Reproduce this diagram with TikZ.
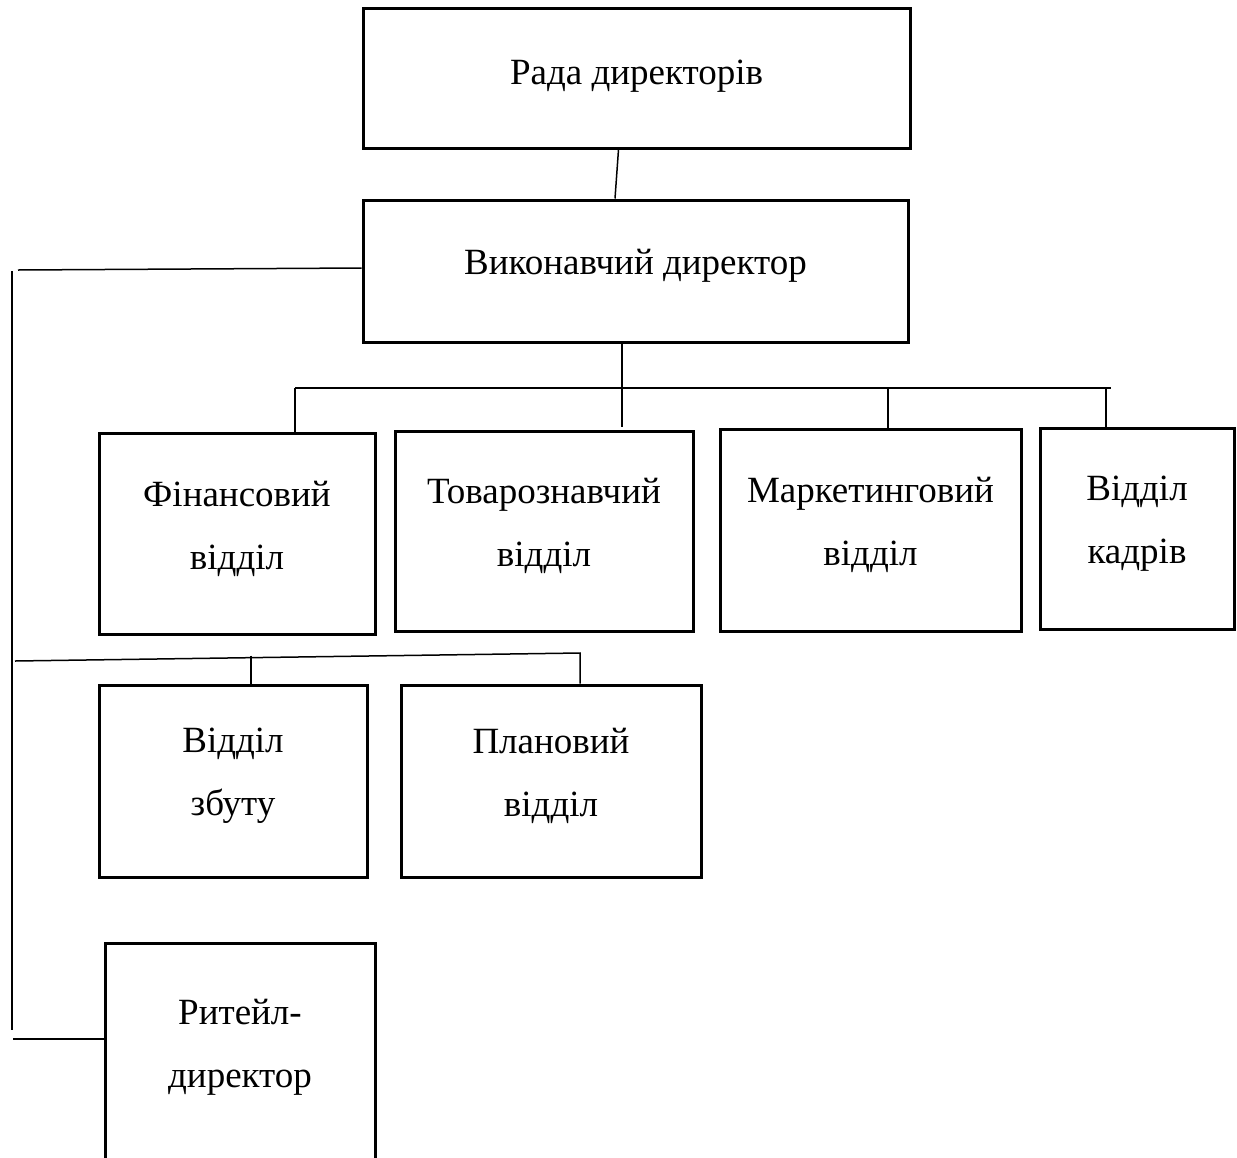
\documentclass[tikz,border=0pt]{standalone}
\usepackage{fontspec}
\setmainfont{Liberation Serif}
\begin{document}
\begin{tikzpicture}[x=1pt,y=-1pt,
  box/.style={draw=black, line width=3pt, inner sep=0pt},
  txt/.style={align=center, inner sep=0pt, yshift=5pt, font=\fontsize{37}{63}\selectfont},
  wire/.style={draw=black, line width=1.5pt}]
\useasboundingbox (0,0) rectangle (1237,1157);
\clip (0,0) rectangle (1237,1157);
\node[box, minimum width=547, minimum height=140, label={[txt,yshift=-3pt]center:Рада директорів}] (rada) at (636.5,78) {};
\node[box, minimum width=545, minimum height=142, label={[txt]center:Виконавчий директор}] (vykon) at (635.5,271) {};
\node[box, minimum width=276, minimum height=201, label={[txt]center:{Фінансовий\\відділ}}] (fin) at (237,533.5) {};
\node[box, minimum width=298, minimum height=200, label={[txt]center:{Товарознавчий\\відділ}}] (tovar) at (544,531) {};
\node[box, minimum width=301, minimum height=202, label={[txt]center:{Маркетинговий\\відділ}}] (market) at (870.5,530) {};
\node[box, minimum width=194, minimum height=201, label={[txt]center:{Відділ\\кадрів}}] (kadry) at (1137,528.5) {};
\node[box, minimum width=268, minimum height=192, label={[txt]center:{Відділ\\збуту}}] (zbut) at (233,781) {};
\node[box, minimum width=300, minimum height=192, label={[txt]center:{Плановий\\відділ}}] (plan) at (551,781) {};
\node[box, minimum width=270, minimum height=219, label={[txt]center:{Ритейл-\\директор}}] (ritail) at (240,1052.5) {};
\coordinate (lhook) at (18,270);
\coordinate (ltop) at (12,271);
\coordinate (lbot) at (12,1030);
\coordinate (lfoot) at (13,1039);
\coordinate (busL) at (295,388);
\coordinate (busR) at (1111,388);
\coordinate (midL) at (15,661);
\coordinate (midR) at (580,653);
\draw[wire] ([xshift=-18]rada.south) -- ([xshift=-20.5]vykon.north);
\draw[wire] (lhook) -- ([yshift=3]vykon.west);
\draw[wire] (ltop) -- (lbot);
\draw[wire] (lfoot) -- (ritail.west |- lfoot);
\draw[wire] ([xshift=-13.5]vykon.south) -- ([xshift=78,yshift=3]tovar.north);
\draw[wire] (busL) -- (busR);
\draw[wire] (busL) -- ([xshift=58]fin.north);
\draw[wire] ([xshift=17.5]market.north |- busL) -- ([xshift=17.5]market.north);
\draw[wire] ([xshift=-31]kadry.north |- busR) -- ([xshift=-31]kadry.north);
\draw[wire] (midL) -- (midR) -- ([xshift=29]plan.north);
\draw[wire] ([xshift=18,yshift=28]zbut.north) -- ([xshift=18]zbut.north);
\end{tikzpicture}
\end{document}
